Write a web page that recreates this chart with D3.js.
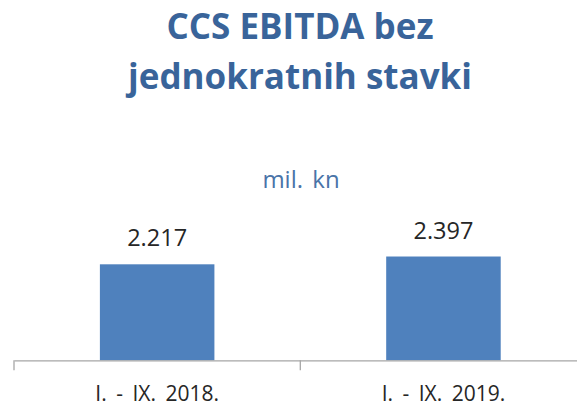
<!DOCTYPE html>
<html>
<head>
<meta charset="utf-8">
<script src="https://cdnjs.cloudflare.com/ajax/libs/d3/7.8.5/d3.min.js"></script>
<style>
  body { margin: 0; background: #fff; }
  text { font-family: "Open Sans", "Noto Sans", sans-serif; }
</style>
</head>
<body>
<div id="chart"></div>
<script>
// Data
var categories = ["I. - IX. 2018.", "I. - IX. 2019."];
var values = [2217, 2397];
var valueLabels = ["2.217", "2.397"];
var titleLines = ["CCS EBITDA bez", "jednokratnih stavki"];
var unitLabel = "mil. kn";

var svgWidth = 577;
var svgHeight = 406;

// axis baseline and plot area
var axisY = 360.3;
var plotTop = 230.4;

var svg = d3.select("#chart")
  .append("svg")
  .attr("width", svgWidth)
  .attr("height", svgHeight);

svg.append("rect")
  .attr("width", svgWidth)
  .attr("height", svgHeight)
  .attr("fill", "#fff");

// scales
var x = d3.scaleBand()
  .domain(categories)
  .range([14, 586.6])
  .padding(0);

var y = d3.scaleLinear()
  .domain([0, 3000])
  .range([axisY, plotTop]);

var barW = x.bandwidth() * 0.4;
var barOff = (x.bandwidth() - barW) / 2;

// title
svg.append("g")
  .selectAll("text")
  .data(titleLines)
  .enter()
  .append("text")
  .attr("x", 300)
  .attr("y", (d, i) => 38.5 + i * 50.5)
  .attr("text-anchor", "middle")
  .attr("font-size", "35px")
  .attr("font-weight", "bold")
  .attr("fill", "#39649a")
  .text(d => d);

// unit subtitle
svg.append("text")
  .attr("x", 301)
  .attr("y", 188.3)
  .attr("text-anchor", "middle")
  .attr("font-size", "24px")
  .attr("word-spacing", "3px")
  .attr("fill", "#4a74a8")
  .text(unitLabel);

// bars
svg.append("g")
  .selectAll("rect")
  .data(values)
  .enter()
  .append("rect")
  .attr("x", (d, i) => x(categories[i]) + barOff)
  .attr("y", d => y(d))
  .attr("width", barW)
  .attr("height", d => y(0) - y(d))
  .attr("fill", "#4f81bd");

// value labels
svg.append("g")
  .selectAll("text")
  .data(values)
  .enter()
  .append("text")
  .attr("x", (d, i) => x(categories[i]) + x.bandwidth() / 2)
  .attr("y", d => y(d) - 18)
  .attr("text-anchor", "middle")
  .attr("font-size", "23.5px")
  .attr("fill", "#262626")
  .text((d, i) => valueLabels[i]);

// x axis
var xAxis = svg.append("g")
  .attr("transform", `translate(0, ${axisY})`)
  .call(d3.axisBottom(x).tickSizeInner(0).tickSizeOuter(0));

xAxis.select(".domain")
  .attr("stroke", "#a6a6a6")
  .attr("stroke-width", 1.3);

xAxis.selectAll(".tick text")
  .attr("y", 40.4)
  .attr("dy", null)
  .attr("font-family", "'Open Sans', sans-serif")
  .attr("font-size", "21px")
  .attr("word-spacing", "4px")
  .attr("fill", "#262626");

// tick marks between categories
xAxis.selectAll(".sep")
  .data(categories.concat([null]))
  .enter()
  .append("line")
  .attr("class", "sep")
  .attr("x1", d => d === null ? x.range()[1] : x(d))
  .attr("x2", d => d === null ? x.range()[1] : x(d))
  .attr("y1", 0)
  .attr("y2", 10)
  .attr("stroke", "#a6a6a6")
  .attr("stroke-width", 1.3);
</script>
</body>
</html>
